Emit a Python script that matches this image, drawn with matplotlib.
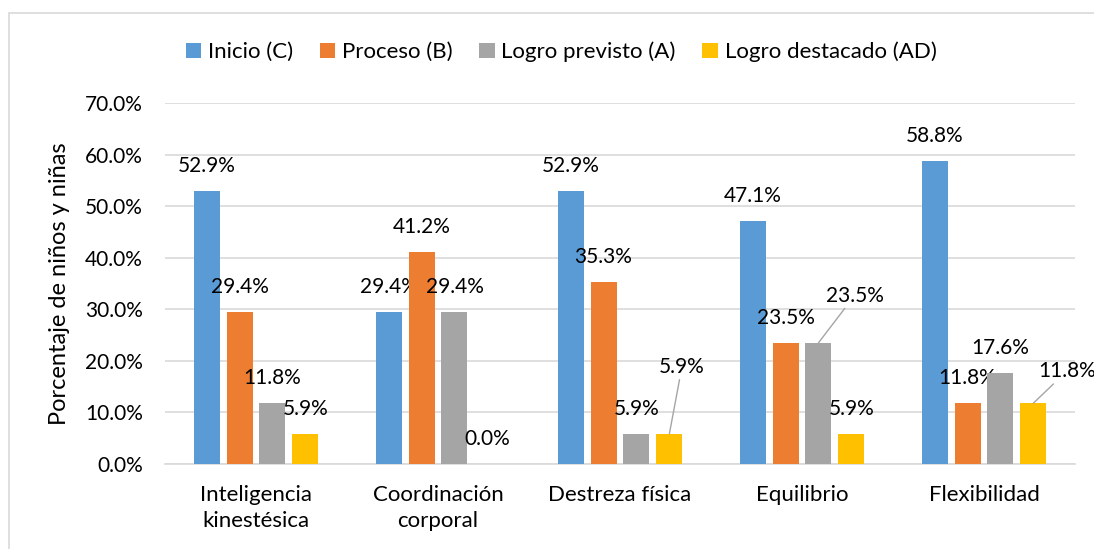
import numpy as np
import matplotlib.pyplot as plt
from matplotlib.patches import Rectangle

plt.rcParams['font.family'] = ['Lato', 'DejaVu Sans']

categories = ["Inteligencia\nkinestésica", "Coordinación\ncorporal", "Destreza física",
              "Equilibrio", "Flexibilidad"]
seriesNames = ["Inicio (C)", "Proceso (B)", "Logro previsto (A)", "Logro destacado (AD)"]
inicio = [52.9, 29.4, 52.9, 47.1, 58.8]
proceso = [29.4, 41.2, 35.3, 23.5, 11.8]
previsto = [11.8, 29.4, 5.9, 23.5, 17.6]
destacado = [5.9, 0.0, 5.9, 5.9, 11.8]
yTicks = [0, 10, 20, 30, 40, 50, 60, 70]

colors = ["#5B9BD5", "#ED7D31", "#A5A5A5", "#FFC000"]
gridColor = "#D9D9D9"

# etiquetas desplazadas con linea guia: (serie, categoria) -> (dx, dy) en puntos
leaderOffsets = {(3, 2): (9, 48), (2, 3): (26, 34), (3, 4): (24, 23)}

fig = plt.figure(figsize=(10.94, 5.49), dpi=100)
ax = fig.add_axes([165 / 1094, 1 - 464 / 549, 910 / 1094, 361 / 549])

x = np.arange(len(categories))
step = 0.181
width = 0.143
allSeries = [inicio, proceso, previsto, destacado]

for i, (name, values) in enumerate(zip(seriesNames, allSeries)):
    pos = x + (i - 1.5) * step
    ax.bar(pos, values, width, color=colors[i], label=name, zorder=3)
    for j, (px, v) in enumerate(zip(pos, values)):
        if (i, j) in leaderOffsets:
            dx, dy = leaderOffsets[(i, j)]
            ax.annotate(f"{v:.1f}%", xy=(px, v), xytext=(dx, dy), textcoords="offset points",
                        ha="center", va="center", fontsize=15, annotation_clip=False,
                        arrowprops=dict(arrowstyle="-", color="#A5A5A5", lw=1,
                                        shrinkA=0, shrinkB=0))
        else:
            ax.annotate(f"{v:.1f}%", xy=(px, v), xytext=(0, 18), textcoords="offset points",
                        ha="center", va="center", fontsize=15, annotation_clip=False)

ax.set_xlim(-0.5, len(categories) - 0.5)
ax.set_ylim(0, 70)
ax.set_yticks(yTicks)
ax.set_yticklabels([f"{t:.1f}%" for t in yTicks], fontsize=15)
ax.set_xticks(x)
ax.set_xticklabels(categories, fontsize=16, linespacing=1.4)
ax.tick_params(axis="both", length=0)
ax.tick_params(axis="y", pad=16)
ax.tick_params(axis="x", pad=15)
ax.yaxis.grid(True, color=gridColor, lw=1.2, zorder=0)
for side in ["top", "right", "left"]:
    ax.spines[side].set_visible(False)
ax.spines["bottom"].set_color(gridColor)
ax.spines["bottom"].set_linewidth(1.2)

ax.set_ylabel("Porcentaje de niños y niñas", fontsize=17)
ax.yaxis.set_label_coords(-0.104, 0.5)

fig.legend(loc="center", bbox_to_anchor=(561 / 1094, 1 - 52 / 549), ncol=4, frameon=False,
           fontsize=16, handlelength=0.7, handleheight=0.7, handletextpad=0.3,
           columnspacing=1.2)

fig.patches.append(Rectangle((8.5 / 1094, -0.1), 2, 1.1 - 13.5 / 549, transform=fig.transFigure,
                             fill=False, ec=gridColor, lw=1.2))

plt.savefig("out.png", dpi=100)
